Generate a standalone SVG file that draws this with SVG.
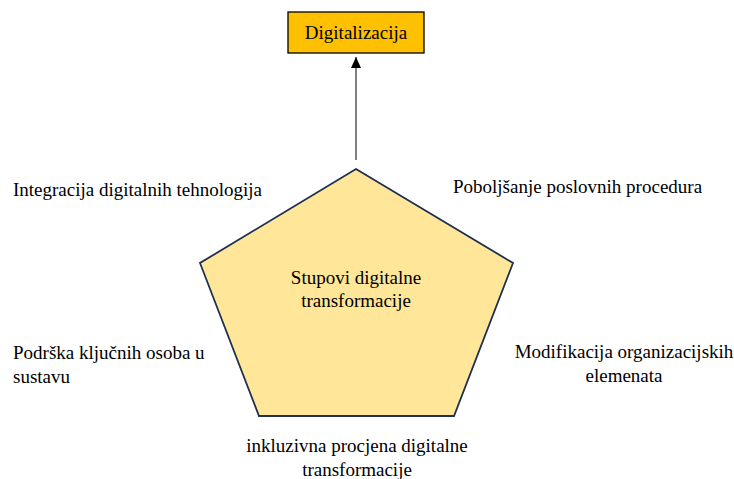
<svg xmlns="http://www.w3.org/2000/svg" width="734" height="479" viewBox="0 0 734 479">
<style>
text{font-family:"Liberation Serif","Times New Roman",serif;font-size:19px;fill:#000}
.c{text-anchor:middle}
</style>
<defs>
<marker id="ah" markerWidth="10" markerHeight="12" refX="5" refY="0" orient="0" markerUnits="userSpaceOnUse" viewBox="0 0 10 12">
<path d="M0,11 L5,0 L10,11 Z" fill="#000"/>
</marker>
</defs>
<rect width="734" height="479" fill="#fff"/>
<g id="connectors">
<line x1="356" y1="160" x2="356" y2="57" stroke="#000" stroke-width="1" marker-end="url(#ah)"/>
</g>
<g id="digitalizacija">
<rect x="288" y="12" width="136" height="41" fill="#FFC000" stroke="#000" stroke-width="1.3"/>
<text class="c" x="356" y="39" font-size="21">Digitalizacija</text>
</g>
<g id="pentagon">
<polygon points="356,169 513,263 454,416 259,416 200,263" fill="#FFE699" stroke="#1F3050" stroke-width="1.8" stroke-linejoin="miter"/>
<text class="c" x="356" y="284">Stupovi digitalne</text>
<text class="c" x="356" y="307">transformacije</text>
</g>
<g id="label-integracija">
<text x="13" y="196">Integracija digitalnih tehnologija</text>
</g>
<g id="label-poboljsanje">
<text x="453" y="193">Poboljšanje poslovnih procedura</text>
</g>
<g id="label-podrska">
<text x="13" y="359">Podrška ključnih osoba u</text>
<text x="13" y="383">sustavu</text>
</g>
<g id="label-modifikacija">
<text class="c" x="624" y="358">Modifikacija organizacijskih</text>
<text class="c" x="624" y="382">elemenata</text>
</g>
<g id="label-inkluzivna">
<text class="c" x="357" y="452">inkluzivna procjena digitalne</text>
<text class="c" x="357" y="476">transformacije</text>
</g>
</svg>
